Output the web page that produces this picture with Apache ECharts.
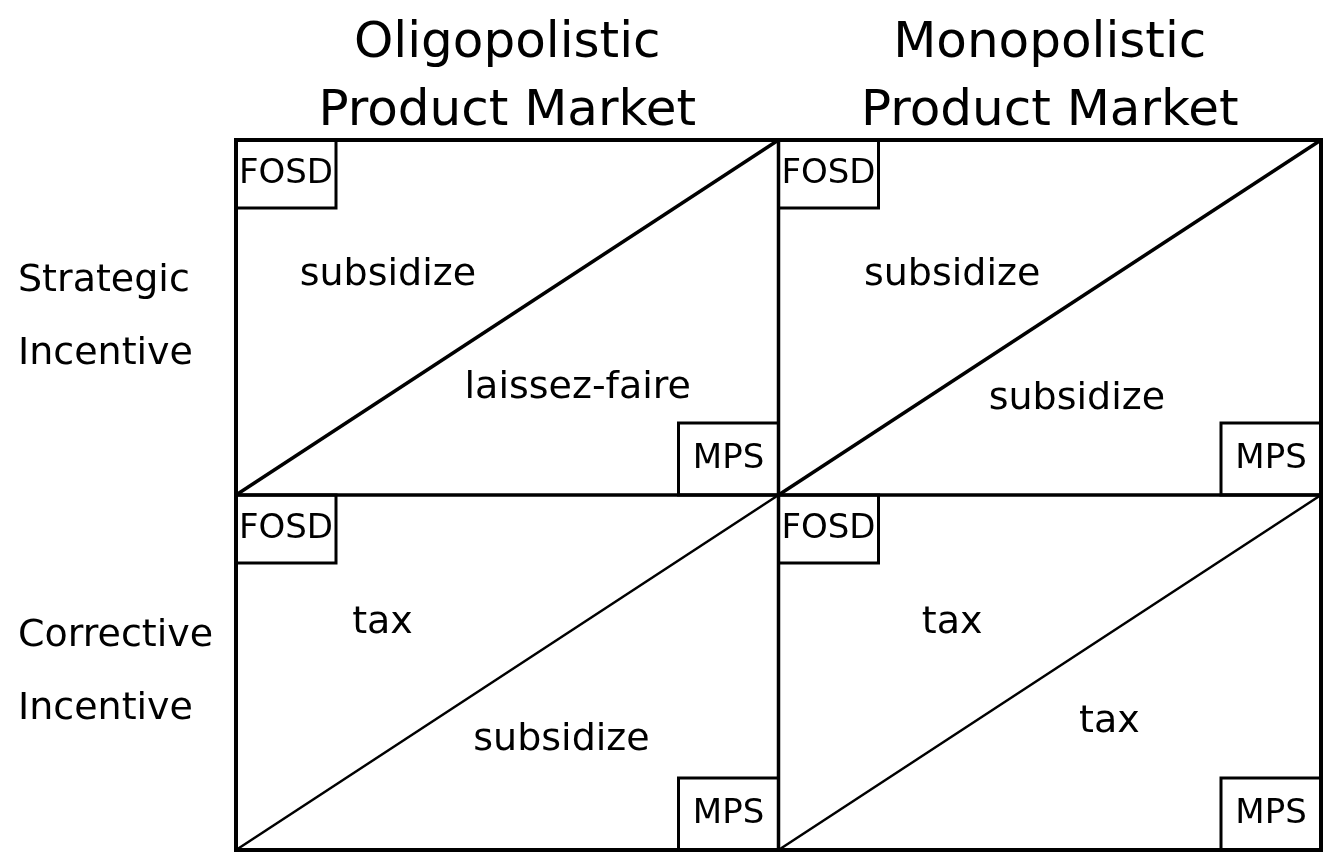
<!DOCTYPE html>
<html>
<head>
<meta charset="utf-8">
<title>Strategic and corrective incentives</title>
<script src="https://cdn.jsdelivr.net/npm/echarts@6/dist/echarts.min.js"></script>
<style>
  html, body { margin: 0; padding: 0; background: #fff; }
  #main { width: 1324px; height: 859px; }
</style>
</head>
<body>
<div id="main"></div>
<script>
// column headers (left to right), row headers (bottom to top)
var columnNames = ['Oligopolistic\nProduct Market', 'Monopolistic\nProduct Market'];
var rowNames = ['Corrective\nIncentive', 'Strategic\nIncentive'];

// cell edges in axis units
var cellEdges = [0, 1, 2];

// diagonal of each cell, lower left corner to upper right corner
var diagonals = [
  [[0, 1], [1, 2]],
  [[1, 1], [2, 2]],
  [[0, 0], [1, 1]],
  [[1, 0], [2, 1]]
];

// corner tags: FOSD sits in the upper left corner of a cell, MPS in the lower right
var fosdCorners = [[0, 2], [1, 2], [0, 1], [1, 1]];
var mpsCorners = [[1, 1], [2, 1], [1, 0], [2, 0]];

// policy written in each triangle
var policyText = ['subsidize', 'laissez-faire', 'subsidize', 'subsidize', 'tax', 'subsidize', 'tax', 'tax'];
var policyX = [0.28, 0.63, 1.32, 1.55, 0.27, 0.60, 1.32, 1.61];
var policyY = [1.62, 1.30, 1.62, 1.27, 0.64, 0.31, 0.64, 0.36];

var font = 'DejaVu Sans';

var myChart = echarts.init(document.getElementById('main'));

function halfLabel(names) {
  return function (v) {
    var i = Math.floor(v);
    return (v - i === 0.5 && names[i]) ? names[i] : '';
  };
}

function segment(points, width) {
  return {
    type: 'line',
    data: points,
    symbol: 'none',
    clip: false,
    silent: true,
    lineStyle: { color: '#000', width: width },
    z: 3
  };
}

var series = [];

// the cross dividing the four cells
series.push(segment([[cellEdges[1], cellEdges[0]], [cellEdges[1], cellEdges[2]]], 3.5));
series.push(segment([[cellEdges[0], cellEdges[1]], [cellEdges[2], cellEdges[1]]], 3.5));

diagonals.forEach(function (d, i) {
  series.push(segment(d, i < 2 ? 3.5 : 2.5));
});

function cornerTag(text, corners, offset, h) {
  return {
    type: 'scatter',
    data: corners,
    symbolSize: 0,
    clip: false,
    silent: true,
    itemStyle: { opacity: 1 },
    label: {
      show: true,
      formatter: text,
      position: offset,
      align: 'center',
      verticalAlign: 'middle',
      width: 100,
      height: h,
      lineHeight: h,
      padding: 0,
      borderColor: '#000',
      borderWidth: 3,
      color: '#000',
      fontFamily: font,
      fontSize: 34
    },
    z: 4
  };
}

series.push(cornerTag('FOSD', fosdCorners, [50, 34], 68));
series.push(cornerTag('MPS', mpsCorners, [-50, -36], 72));

series.push({
  type: 'scatter',
  data: policyText.map(function (t, i) { return [policyX[i], policyY[i], t]; }),
  symbolSize: 0,
  clip: false,
  silent: true,
  itemStyle: { opacity: 1 },
  label: {
    show: true,
    position: 'inside',
    formatter: function (p) { return p.value[2]; },
    color: '#000',
    fontFamily: font,
    fontSize: 38
  },
  z: 5
});

var option = {
  animation: false,
  backgroundColor: '#fff',
  grid: {
    left: 236,
    right: 3,
    top: 140,
    bottom: 4,
    show: true,
    borderColor: '#000',
    borderWidth: 4
  },
  xAxis: {
    type: 'value',
    position: 'top',
    min: 0,
    max: 2,
    interval: 0.5,
    axisLine: { show: false },
    axisTick: { show: false },
    splitLine: { show: false },
    axisLabel: {
      formatter: halfLabel(columnNames),
      color: '#000',
      fontFamily: font,
      fontSize: 50,
      lineHeight: 68,
      margin: -6
    }
  },
  yAxis: {
    type: 'value',
    min: 0,
    max: 2,
    interval: 0.5,
    axisLine: { show: false },
    axisTick: { show: false },
    splitLine: { show: false },
    axisLabel: {
      formatter: halfLabel(rowNames),
      color: '#000',
      fontFamily: font,
      fontSize: 38,
      lineHeight: 73,
      align: 'left',
      margin: 218,
      padding: [0, 0, 18, 0]
    }
  },
  series: series
};

myChart.setOption(option);
</script>
</body>
</html>
